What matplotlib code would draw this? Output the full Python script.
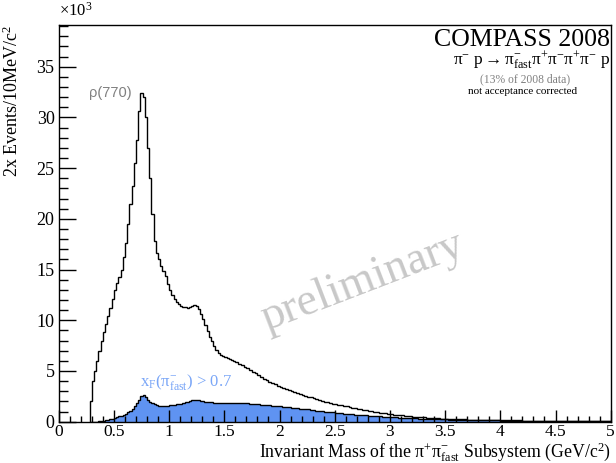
import numpy as np
import matplotlib
matplotlib.use('Agg')
import matplotlib.pyplot as plt

# bin layout: 20 MeV bins 0.28-1.6, 25 MeV bins 1.6-3.6, 50 MeV bins 3.6-5.0
edge_a, edge_b, edge_c, edge_d = 0.28, 1.6, 3.6, 5.0
n_a, n_b, n_c = 66, 80, 28

# all events (x10^3)
all_a = [2.0, 4.0, 5.0, 6.0, 7.0, 8.0, 8.8, 9.6, 10.4, 11.2,
         12.1, 13.0, 13.7, 14.3, 15.0, 16.2, 17.6, 19.5, 21.5, 23.2,
         25.5, 27.8, 30.6, 32.4, 32.0, 30.0, 27.0, 24.0, 20.5, 17.8,
         16.6, 16.0, 15.4, 14.9, 14.4, 13.6, 13.0, 12.5, 12.1, 11.8,
         11.6, 11.4, 11.3, 11.3, 11.2, 11.3, 11.4, 11.5, 11.4, 11.1,
         10.6, 10.1, 9.5, 8.9, 8.4, 8.0, 7.5, 7.1, 6.8, 6.6,
         6.5, 6.4, 6.3, 6.2, 6.1, 6.0]
all_b = [5.85, 5.72, 5.55, 5.38, 5.25, 5.12, 4.95, 4.80,
         4.62, 4.45, 4.25, 4.08, 3.95, 3.82, 3.68, 3.56,
         3.44, 3.33, 3.21, 3.10, 3.00, 2.92, 2.83, 2.74,
         2.65, 2.56, 2.47, 2.39, 2.30, 2.21, 2.12, 2.04,
         1.97, 1.91, 1.85, 1.79, 1.73, 1.68, 1.62, 1.56,
         1.50, 1.45, 1.39, 1.34, 1.28, 1.23, 1.18, 1.13,
         1.08, 1.03, 0.99, 0.95, 0.90, 0.86, 0.82, 0.78,
         0.74, 0.71, 0.68, 0.65, 0.62, 0.59, 0.56, 0.53,
         0.50, 0.48, 0.46, 0.44, 0.42, 0.40, 0.38, 0.36,
         0.34, 0.33, 0.31, 0.30, 0.29, 0.27, 0.26, 0.25]
all_c = [0.24, 0.22, 0.21, 0.2, 0.19, 0.18, 0.17, 0.16, 0.15, 0.14,
         0.13, 0.12, 0.11, 0.1, 0.1, 0.09, 0.09, 0.08, 0.08, 0.07,
         0.07, 0.06, 0.06, 0.05, 0.05, 0.05, 0.04, 0.04]

# events with x_F(pi_fast) > 0.7
xf_a = [0, 0, 0, 0, 0.02, 0.05, 0.09, 0.13, 0.18, 0.24,
        0.30, 0.36, 0.44, 0.52, 0.60, 0.70, 0.80, 0.93, 1.08, 1.25,
        1.50, 1.80, 2.15, 2.50, 2.60, 2.40, 2.15, 1.95, 1.80, 1.70,
        1.63, 1.58, 1.55, 1.54, 1.55, 1.57, 1.60, 1.62, 1.66, 1.70,
        1.74, 1.78, 1.83, 1.90, 1.98, 2.06, 2.11, 2.14, 2.13, 2.10,
        2.06, 2.02, 1.98, 1.95, 1.93, 1.91, 1.89, 1.88, 1.87, 1.86,
        1.85, 1.85, 1.85, 1.86, 1.86, 1.86]
xf_b = [1.86, 1.85, 1.83, 1.82, 1.80, 1.78, 1.76, 1.73,
        1.70, 1.67, 1.64, 1.62, 1.60, 1.58, 1.56, 1.54,
        1.51, 1.48, 1.45, 1.42, 1.39, 1.36, 1.33, 1.30,
        1.27, 1.24, 1.21, 1.17, 1.13, 1.10, 1.06, 1.03,
        1.00, 0.97, 0.94, 0.91, 0.88, 0.85, 0.82, 0.79,
        0.77, 0.75, 0.72, 0.70, 0.68, 0.66, 0.64, 0.62,
        0.60, 0.58, 0.56, 0.54, 0.52, 0.50, 0.48, 0.47,
        0.45, 0.43, 0.42, 0.40, 0.39, 0.37, 0.36, 0.35,
        0.33, 0.32, 0.31, 0.30, 0.29, 0.28, 0.27, 0.26,
        0.25, 0.24, 0.23, 0.22, 0.22, 0.21, 0.20, 0.20]
xf_c = [0.19, 0.18, 0.17, 0.16, 0.15, 0.14, 0.13, 0.12, 0.11, 0.1,
        0.1, 0.09, 0.08, 0.08, 0.07, 0.07, 0.06, 0.06, 0.05, 0.05,
        0.05, 0.04, 0.04, 0.04, 0.03, 0.03, 0.03, 0.03]

x_ticks = [0, 0.5, 1, 1.5, 2, 2.5, 3, 3.5, 4, 4.5, 5]
x_ticklabels = ['0', '0.5', '1', '1.5', '2', '2.5', '3', '3.5', '4', '4.5', '5']
y_ticks = [0, 5, 10, 15, 20, 25, 30, 35]

plt.rcParams['font.family'] = ['Liberation Serif', 'DejaVu Serif']
plt.rcParams['mathtext.fontset'] = 'custom'
plt.rcParams['mathtext.rm'] = 'Liberation Serif'
plt.rcParams['mathtext.it'] = 'Liberation Serif:italic'

edges = np.concatenate([np.linspace(edge_a, edge_b, n_a + 1)[:-1],
                        np.linspace(edge_b, edge_c, n_b + 1)[:-1],
                        np.linspace(edge_c, edge_d, n_c + 1)])
all_vals = np.array(all_a + all_b + all_c)
xf_vals = np.array(xf_a + xf_b + xf_c)

fig = plt.figure(figsize=(6.16, 4.63), dpi=100)
ax = fig.add_axes([0.0953, 0.0892, 0.8961, 0.8575])

blue = '#5f93f2'
ax.stairs(xf_vals, edges, fill=True, color=blue, linewidth=0)
ax.stairs(xf_vals, edges, color='black', linewidth=1.0)
ax.stairs(all_vals, edges, color='black', linewidth=1.0)

ax.set_xlim(0, 5)
ax.set_ylim(0, 39.15)
ax.set_xticks(x_ticks)
ax.set_xticklabels(x_ticklabels)
ax.set_yticks(y_ticks)
ax.set_xticks(np.arange(0, 5.01, 0.1), minor=True)
ax.set_yticks(np.arange(0, 39.1, 1), minor=True)
ax.tick_params(axis='both', which='both', direction='in', labelsize=13, width=1.0)
ax.tick_params(axis='x', which='major', length=8.5, pad=2, labelsize=12.5)
ax.tick_params(axis='x', which='minor', length=4.5)
ax.tick_params(axis='y', which='major', length=12, pad=3)
ax.tick_params(axis='y', which='minor', length=6.5)
for s in ax.spines.values():
    s.set_linewidth(1.0)

ax.text(0.0, 1.012, r'$\times$10$^{3}$', transform=ax.transAxes, fontsize=12,
        ha='left', va='bottom')
ax.text(-0.084, 1.0, r'2x Events/10MeV/c$^{2}$', transform=ax.transAxes,
        fontsize=13, rotation=90, ha='center', va='top')
ax.text(1.0, -0.091, r'Invariant Mass of the $\mathrm{\pi^{+}\pi^{-}_{fast}}$ Subsystem (GeV/c$^{2}$)',
        transform=ax.transAxes, fontsize=12.8, ha='right', va='baseline')

ax.text(0.9985, 0.946, 'COMPASS 2008', transform=ax.transAxes, fontsize=18.6,
        ha='right', va='baseline')
ax.text(0.9985, 0.899,
        r'$\mathrm{\pi^{-}\ p \rightarrow \pi^{-}_{fast}\pi^{+}\pi^{-}\pi^{+}\pi^{-}\ p}$',
        transform=ax.transAxes, fontsize=12.5, ha='right', va='baseline')
ax.text(0.845, 0.856, '(13% of 2008 data)', transform=ax.transAxes, fontsize=8.4,
        color='#808080', ha='center', va='baseline')
ax.text(0.84, 0.826, 'not acceptance corrected', transform=ax.transAxes, fontsize=8,
        ha='center', va='baseline')

ax.text(0.465, 32.0, 'ρ(770)', fontsize=10.5, color='#808080', ha='center',
        va='baseline', family=['Liberation Sans', 'DejaVu Sans'])
ax.text(1.15, 3.55, r'x$_{\rm F}$($\mathrm{\pi^{-}_{fast}}$) > 0.7', fontsize=12,
        color='#7aa6f7', ha='center', va='baseline')
ax.text(2.75, 13.8, 'preliminary', fontsize=33, color='#c8c8c8', rotation=21,
        ha='center', va='center')

fig.savefig('out.png', dpi=100)
